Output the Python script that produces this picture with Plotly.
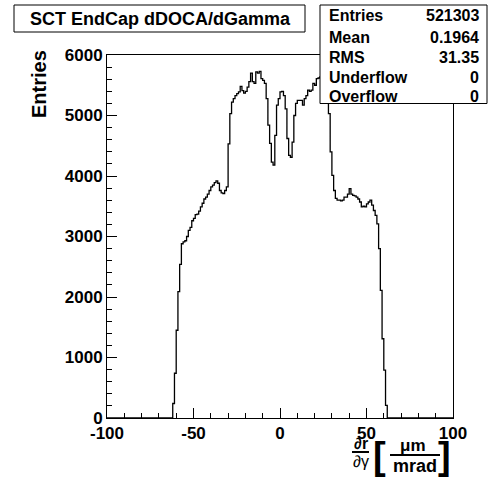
import plotly.graph_objects as go

# ---------------- data ----------------
TITLE = "SCT EndCap dDOCA/dGamma"
X_MIN, X_MAX = -100, 100
BIN_WIDTH = 1
FIRST_BIN_EDGE = -62          # lower edge of first non-empty bin
counts = [
    240, 740, 1450, 2090, 2540, 2880, 2910, 2930, 3000, 3100,      # -62 .. -53
    3150, 3260, 3300, 3360, 3370, 3420, 3490, 3550, 3620, 3650,    # -52 .. -43
    3700, 3760, 3820, 3850, 3890, 3920, 3880, 3760, 3720, 3710,    # -42 .. -33
    3760, 3820, 4530, 5030, 5220, 5280, 5330, 5360, 5390, 5480,    # -32 .. -23
    5410, 5370, 5400, 5470, 5560, 5700, 5560, 5530, 5720, 5700,    # -22 .. -13
    5730, 5610, 5580, 5530, 5280, 4840, 4540, 4230, 4180, 4670,    # -12 .. -3
    5170, 5280, 5390, 5400, 5330, 5110, 4620, 4340, 4310, 4560,    # -2 .. 7
    5000, 5200, 5250, 5250, 5250, 5170, 5280, 5330, 5420, 5400,    # 8 .. 17
    5420, 5530, 5500, 5610, 5620, 5640, 5700, 5760, 5720, 5600,    # 18 .. 27
    5030, 4400, 4010, 3760, 3630, 3600, 3600, 3590, 3600, 3650,    # 28 .. 37
    3650, 3700, 3790, 3700, 3680, 3670, 3650, 3620, 3570, 3490,    # 38 .. 47
    3500, 3490, 3540, 3570, 3600, 3520, 3430, 3350, 3210, 2800,    # 48 .. 57
    2110, 1310, 790, 210,                                          # 58 .. 61
]
x_tickvals = [-100, -50, 0, 50, 100]
x_ticktext = ["-100", "-50", "0", "50", "100"]
stat_labels = ["Entries", "Mean", "RMS", "Underflow", "Overflow"]
stat_values = ["521303", "0.1964", "31.35", "0", "0"]

# ---------------- geometry ----------------
W, H = 490, 482
L, R, T, B = 107, 37, 55, 64
PW, PH = W - L - R, H - T - B


def xp(px):
    return (px - L) / PW


def yp(py):
    return (H - B - py) / PH


# build step line from bin edges
n = len(counts)
edges = [FIRST_BIN_EDGE + i * BIN_WIDTH for i in range(n + 1)]
xs = [X_MIN, edges[0]] + edges[:-1] + [edges[-1], X_MAX]
ys = [0, 0] + counts + [0, 0]

fig = go.Figure()
fig.add_trace(go.Scatter(x=xs, y=ys, mode="lines", line_shape="hv",
                         line=dict(color="black", width=1.3),
                         hoverinfo="skip", showlegend=False))

FONT = "Liberation Sans"
xtickfont = dict(family=FONT, size=17, color="black", weight="bold")
ytickfont = dict(family=FONT, size=17, color="black", weight="bold")

fig.update_layout(
    width=W, height=H,
    margin=dict(l=L, r=R, t=T, b=B, pad=0),
    paper_bgcolor="white", plot_bgcolor="white",
    showlegend=False,
    xaxis=dict(range=[X_MIN, X_MAX], showgrid=False, zeroline=False,
               showline=True, mirror=True, linecolor="black", linewidth=1,
               ticks="inside", ticklen=10, tickwidth=1, tickcolor="black",
               tickmode="array", tickvals=x_tickvals, ticktext=x_ticktext,
               tickfont=xtickfont,
               minor=dict(ticks="inside", ticklen=5, tickcolor="black",
                          tickwidth=1, tick0=0, dtick=10, showgrid=False)),
    yaxis=dict(range=[0, 6000], showgrid=False, zeroline=False,
               showline=True, mirror=True, linecolor="black", linewidth=1,
               ticks="inside", ticklen=10, tickwidth=1, tickcolor="black",
               tick0=0, dtick=1000, tickfont=ytickfont,
               minor=dict(ticks="inside", ticklen=5, tickcolor="black",
                          tickwidth=1, dtick=200, showgrid=False)),
)

shapes = []
annots = []

# title box
shapes.append(dict(type="rect", xref="paper", yref="paper",
                   x0=xp(14), x1=xp(305), y0=yp(32), y1=yp(5),
                   line=dict(color="black", width=1), fillcolor="white", layer="above"))
annots.append(dict(text=TITLE, x=xp(160), y=yp(19), xref="paper", yref="paper",
                   showarrow=False, xanchor="center", yanchor="middle",
                   font=dict(family=FONT, size=18, color="black", weight="bold")))

# stats box
shapes.append(dict(type="rect", xref="paper", yref="paper",
                   x0=xp(320), x1=xp(487), y0=yp(103.5), y1=yp(5),
                   line=dict(color="black", width=1), fillcolor="white", layer="above"))
row_y = [16, 37.5, 58, 78, 97]
for lab, val, ry in zip(stat_labels, stat_values, row_y):
    annots.append(dict(text=lab, x=xp(327), y=yp(ry), xref="paper", yref="paper",
                       showarrow=False, xanchor="left", yanchor="middle",
                       font=dict(family=FONT, size=16, color="black", weight="bold")))
    annots.append(dict(text=val, x=xp(481), y=yp(ry), xref="paper", yref="paper",
                       showarrow=False, xanchor="right", yanchor="middle",
                       font=dict(family=FONT, size=16, color="black", weight="bold")))

# y title
annots.append(dict(text="Entries", x=xp(39), y=yp(84), xref="paper", yref="paper",
                   showarrow=False, textangle=-90, xanchor="center", yanchor="middle",
                   font=dict(family=FONT, size=20, color="black", weight="bold")))

# x title: d r / d gamma [ mu m / mrad ]
def txt(t, px, py, size, bold=True, family=FONT):
    annots.append(dict(text=t, x=xp(px), y=yp(py), xref="paper", yref="paper",
                       showarrow=False, xanchor="center", yanchor="middle",
                       font=dict(family=family, size=size, color="black",
                                 weight="bold" if bold else "normal")))


txt("∂r", 360.5, 443.5, 16)
txt("∂γ", 360.5, 461.5, 16, bold=False)
txt("[", 379.5, 456, 38)
txt("μm", 413, 445.5, 17)
txt("mrad", 415, 466, 18)
txt("]", 444, 456, 38)
shapes.append(dict(type="line", xref="paper", yref="paper",
                   x0=xp(352), x1=xp(369), y0=yp(452), y1=yp(452),
                   line=dict(color="black", width=2)))
shapes.append(dict(type="line", xref="paper", yref="paper",
                   x0=xp(390), x1=xp(440), y0=yp(455), y1=yp(455),
                   line=dict(color="black", width=2)))

fig.update_layout(shapes=shapes, annotations=annots)
fig.write_html("out.html", config={"displayModeBar": False},
               post_script="document.body.style.margin='0px';document.body.style.overflow='hidden';")
